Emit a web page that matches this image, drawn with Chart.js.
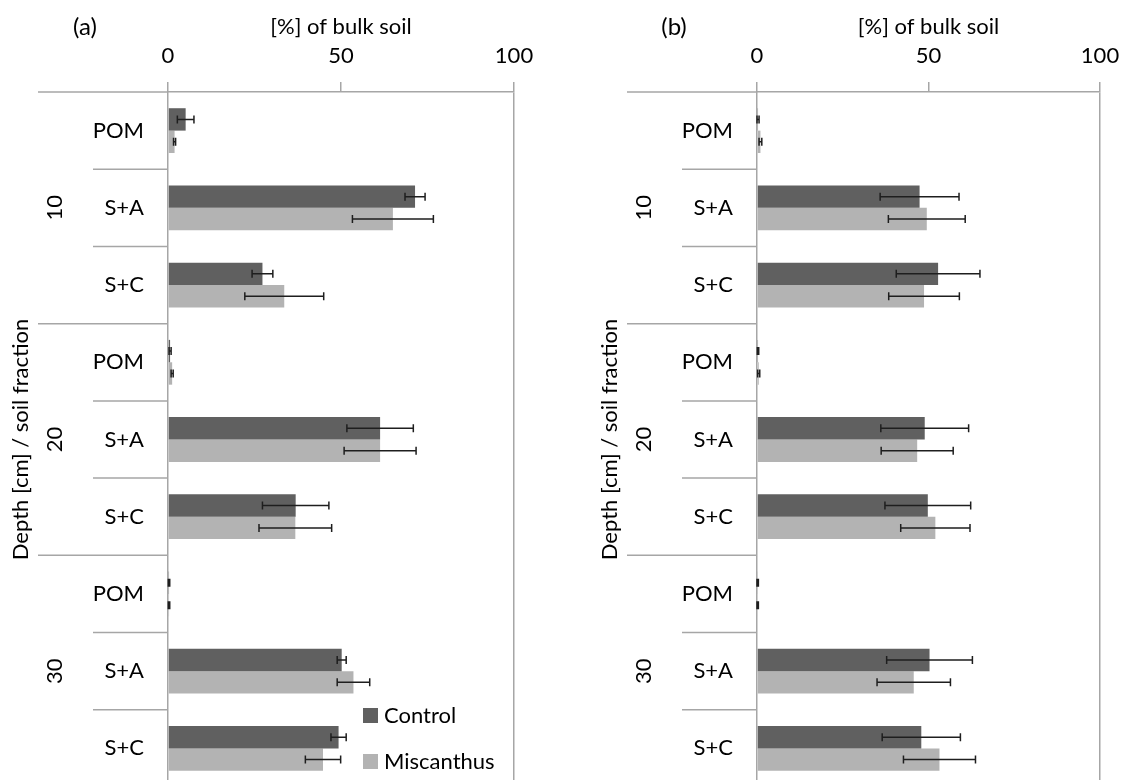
<!DOCTYPE html>
<html>
<head>
<meta charset="utf-8">
<script src="https://cdn.jsdelivr.net/npm/chart.js@4"></script>
<style>
  html, body { margin: 0; padding: 0; background: #fff; overflow: hidden; }
  #wrap { position: relative; width: 1121px; height: 780px; }
  canvas { position: absolute; top: 0; }
  #chartA { left: 0; }
  #chartB { left: 589px; }
</style>
</head>
<body>
<div id="wrap">
  <canvas id="chartA" width="589" height="800" style="width:589px;height:800px"></canvas>
  <canvas id="chartB" width="532" height="800" style="width:532px;height:800px"></canvas>
</div>
<script>
// Categories (soil fraction per depth) and depths
const fractions = ['POM', 'S+A', 'S+C', 'POM', 'S+A', 'S+C', 'POM', 'S+A', 'S+C'];
const depths = ['10', '20', '30'];
const xTicks = [0, 50, 100];

// Panel (a) values, [%] of bulk soil, and error bar half widths
const controlA    = [5.1, 71.4, 27.3, 0.6, 61.3, 36.9, 0.3, 50.2, 49.3];
const controlAErr = [2.4, 2.9, 3.0, 0.3, 9.6, 9.6, 0.2, 1.3, 2.2];
const miscA       = [1.9, 65.0, 33.6, 1.2, 61.3, 36.8, 0.3, 53.6, 44.8];
const miscAErr    = [0.3, 11.7, 11.4, 0.3, 10.4, 10.5, 0.2, 4.7, 5.1];

// Panel (b)
const controlB    = [0.3, 47.4, 52.8, 0.3, 48.9, 49.8, 0.2, 50.3, 47.9];
const controlBErr = [0.3, 11.5, 12.2, 0.2, 12.8, 12.5, 0.2, 12.5, 11.4];
const miscB       = [1.0, 49.5, 48.7, 0.5, 46.7, 52.0, 0.2, 45.7, 53.2];
const miscBErr    = [0.4, 11.2, 10.3, 0.3, 10.5, 10.1, 0.2, 10.7, 10.5];

const GRID = '#a6a6a6';
const FONT = 'Lato, "Open Sans", sans-serif';
const FS = 22;

// error bars, dividers, depth labels, panel letter, legend
const decor = {
  id: 'decor',
  afterDatasetsDraw(chart) {
    const ctx = chart.ctx;
    const xs = chart.scales.x;
    ctx.save();
    ctx.strokeStyle = '#1e1e1e';
    ctx.lineWidth = 1.5;
    chart.data.datasets.forEach((ds, di) => {
      chart.getDatasetMeta(di).data.forEach((bar, i) => {
        const v = ds.data[i], e = ds.errors[i];
        const x0 = xs.getPixelForValue(v - e), x1 = xs.getPixelForValue(v + e);
        const y = bar.y;
        ctx.beginPath();
        ctx.moveTo(x0, y); ctx.lineTo(x1, y);
        ctx.moveTo(x0, y - 4); ctx.lineTo(x0, y + 4);
        ctx.moveTo(x1, y - 4); ctx.lineTo(x1, y + 4);
        ctx.stroke();
      });
    });
    ctx.restore();
  },
  afterDraw(chart, args, opts) {
    const ctx = chart.ctx;
    const ys = chart.scales.y;
    const area = chart.chartArea;
    const step = ys.getPixelForValue(1) - ys.getPixelForValue(0);
    ctx.save();
    ctx.strokeStyle = GRID;
    ctx.lineWidth = 1.5;
    for (let k = 0; k <= fractions.length; k++) {
      const y = ys.getPixelForValue(k) - step / 2;
      ctx.beginPath();
      ctx.moveTo(k % 3 === 0 ? area.left - 130 : area.left - 75, y);
      ctx.lineTo(area.left, y);
      ctx.stroke();
    }
    ctx.fillStyle = '#000';
    ctx.font = FS + 'px ' + FONT;
    ctx.textAlign = 'center';
    ctx.textBaseline = 'middle';
    depths.forEach((d, g) => {
      ctx.save();
      ctx.translate(area.left - 113, ys.getPixelForValue(g * 3 + 1));
      ctx.rotate(-Math.PI / 2);
      ctx.fillText(d, 0, 0);
      ctx.restore();
    });
    ctx.font = '24px ' + FONT;
    ctx.fillText(opts.letter, 85, 27);
    if (opts.legend) {
      ctx.font = FS + 'px ' + FONT;
      ctx.textAlign = 'left';
      chart.data.datasets.forEach((ds, i) => {
        const cy = area.bottom - 72 + i * 46;
        ctx.fillStyle = ds.backgroundColor;
        ctx.fillRect(area.left + 195, cy - 7, 15, 15);
        ctx.fillStyle = '#000';
        ctx.fillText(ds.label, area.left + 216, cy + 1);
      });
    }
    ctx.restore();
  }
};

function makeChart(id, control, controlErr, misc, miscErr, letter, legend, padRight) {
  return new Chart(document.getElementById(id), {
    type: 'bar',
    data: {
      labels: fractions,
      datasets: [
        { label: 'Control', data: control, errors: controlErr, backgroundColor: '#606060',
          categoryPercentage: 0.58, barPercentage: 1 },
        { label: 'Miscanthus', data: misc, errors: miscErr, backgroundColor: '#b3b3b3',
          categoryPercentage: 0.58, barPercentage: 1 }
      ]
    },
    options: {
      indexAxis: 'y',
      responsive: false,
      animation: false,
      layout: { padding: { left: 0, top: 0, right: padRight, bottom: 13 } },
      plugins: {
        legend: { display: false },
        tooltip: { enabled: false },
        decor: { letter: letter, legend: legend }
      },
      scales: {
        x: {
          position: 'top', min: 0, max: 100,
          afterBuildTicks: s => { s.ticks = xTicks.map(v => ({ value: v })); },
          afterFit: s => { s.height = 92; s.paddingLeft = 0; s.paddingRight = 0; },
          border: { color: GRID, width: 1.5 },
          grid: {
            color: c => (c.tick && c.tick.value === 100 ? GRID : 'rgba(0,0,0,0)'),
            lineWidth: 1.5, tickLength: 10, tickColor: GRID
          },
          ticks: { color: '#000', font: { family: FONT, size: FS }, padding: 13, maxRotation: 0 },
          title: { display: true, text: '[%] of bulk soil', color: '#000',
                   font: { family: FONT, size: FS }, padding: { top: 14, bottom: 0 } }
        },
        y: {
          afterFit: s => { s.width = 168; s.paddingTop = 0; s.paddingBottom = 0; },
          border: { color: GRID, width: 1.5 },
          grid: { drawOnChartArea: false, drawTicks: false },
          ticks: { color: '#000', font: { family: FONT, size: FS }, padding: 24 },
          title: { display: true, text: 'Depth [cm] / soil fraction', color: '#000',
                   font: { family: FONT, size: FS }, padding: { top: 8, bottom: 0 } }
        }
      }
    },
    plugins: [decor]
  });
}

makeChart('chartA', controlA, controlAErr, miscA, miscAErr, '(a)', true, 75);
makeChart('chartB', controlB, controlBErr, miscB, miscBErr, '(b)', false, 21);
</script>
</body>
</html>
